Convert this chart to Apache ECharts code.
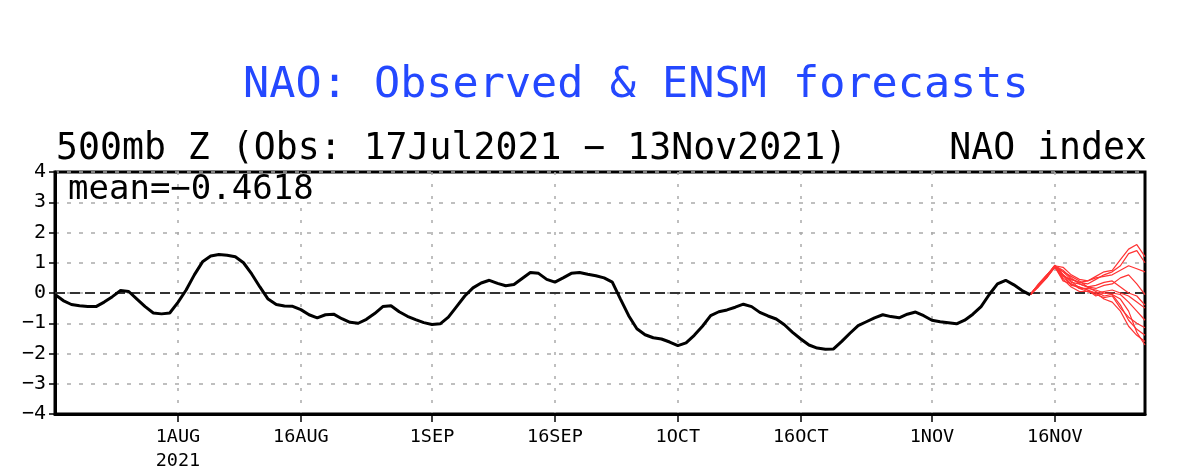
<!DOCTYPE html>
<html>
<head>
<meta charset="utf-8">
<script src="https://cdn.jsdelivr.net/npm/echarts@6/dist/echarts.min.js"></script>
<style>
html,body{margin:0;padding:0;background:#fff;}
#chart{width:1201px;height:473px;}
</style>
</head>
<body>
<div id="chart"></div>
<script>
// ---- Data ----
var startDate = '2021-07-17';
var endDate = '2021-11-27';
var tickLabels = {
  '2021-08-01': '1AUG\n2021',
  '2021-08-16': '16AUG',
  '2021-09-01': '1SEP',
  '2021-09-16': '16SEP',
  '2021-10-01': '1OCT',
  '2021-10-16': '16OCT',
  '2021-11-01': '1NOV',
  '2021-11-16': '16NOV'
};
var yTicks = [-4, -3, -2, -1, 0, 1, 2, 3, 4];
var zeroLevel = 0;

// observed NAO index, daily from 17 Jul 2021 to 13 Nov 2021
var observed = [
  -0.05, -0.25, -0.38, -0.42, -0.45, -0.45, -0.30, -0.12, 0.08, 0.05,
  -0.20, -0.45, -0.66, -0.69, -0.66, -0.31, 0.10, 0.60, 1.03, 1.22,
  1.27, 1.25, 1.20, 1.00, 0.63, 0.20, -0.20, -0.38, -0.43, -0.44,
  -0.55, -0.72, -0.82, -0.72, -0.70, -0.85, -0.97, -1.00, -0.87, -0.68,
  -0.45, -0.42, -0.62, -0.77, -0.88, -0.98, -1.04, -1.02, -0.80, -0.45,
  -0.10, 0.17, 0.33, 0.42, 0.32, 0.24, 0.28, 0.48, 0.68, 0.65,
  0.45, 0.36, 0.50, 0.65, 0.68, 0.62, 0.57, 0.50, 0.36, -0.20,
  -0.75, -1.18, -1.38, -1.48, -1.52, -1.62, -1.74, -1.65, -1.40, -1.10,
  -0.75, -0.62, -0.56, -0.47, -0.37, -0.45, -0.64, -0.76, -0.86, -1.05,
  -1.30, -1.52, -1.72, -1.82, -1.86, -1.85, -1.60, -1.33, -1.08, -0.95,
  -0.82, -0.72, -0.78, -0.82, -0.70, -0.63, -0.75, -0.90, -0.95, -0.98,
  -1.02, -0.90, -0.70, -0.45, -0.05, 0.30, 0.42, 0.27, 0.08, -0.06
];

// ENSM forecast members, daily from 13 Nov 2021 to 27 Nov 2021
var member1  = [-0.05, 0.25, 0.55, 0.90, 0.85, 0.60, 0.45, 0.40, 0.55, 0.70, 0.75, 1.10, 1.45, 1.60, 1.20];
var member2  = [-0.05, 0.30, 0.60, 0.85, 0.70, 0.45, 0.35, 0.30, 0.45, 0.60, 0.70, 0.90, 1.30, 1.40, 1.00];
var member3  = [-0.05, 0.20, 0.50, 0.88, 0.55, 0.45, 0.35, 0.40, 0.50, 0.55, 0.60, 0.75, 0.90, 0.80, 0.70];
var member4  = [-0.05, 0.25, 0.55, 0.90, 0.60, 0.35, 0.30, 0.20, 0.15, 0.25, 0.30, 0.50, 0.60, 0.30, -0.05];
var member5  = [-0.05, 0.22, 0.50, 0.85, 0.50, 0.30, 0.15, 0.05, 0.00, 0.05, 0.10, 0.00, -0.10, -0.30, -0.50];
var member6  = [-0.05, 0.28, 0.58, 0.92, 0.60, 0.25, 0.20, 0.10, -0.10, 0.00, 0.00, -0.05, -0.30, -0.60, -0.90];
var member7  = [-0.05, 0.24, 0.52, 0.87, 0.45, 0.20, 0.05, 0.05, -0.05, -0.15, -0.10, -0.50, -0.80, -1.00, -1.15];
var member8  = [-0.05, 0.26, 0.56, 0.90, 0.70, 0.55, 0.40, 0.20, 0.05, -0.10, -0.05, -0.40, -0.90, -1.20, -1.40];
var member9  = [-0.05, 0.23, 0.53, 0.86, 0.40, 0.30, 0.20, 0.10, 0.00, -0.20, -0.30, -0.60, -1.10, -1.40, -1.60];
var member10 = [-0.05, 0.27, 0.57, 0.89, 0.60, 0.40, 0.15, 0.15, 0.10, 0.00, -0.05, -0.20, -0.60, -1.30, -1.72];
var member11 = [-0.05, 0.25, 0.55, 0.90, 0.75, 0.50, 0.30, 0.20, 0.25, 0.35, 0.40, 0.20, 0.00, -0.10, -0.40];
var members = [member1, member2, member3, member4, member5, member6, member7, member8, member9, member10, member11];

// ---- Build categories (dates) ----
function pad(n){return n < 10 ? '0' + n : '' + n;}
var categories = [];
(function(){
  var d = new Date(startDate + 'T00:00:00Z');
  var e = new Date(endDate + 'T00:00:00Z');
  while (d <= e) {
    categories.push(d.getUTCFullYear() + '-' + pad(d.getUTCMonth() + 1) + '-' + pad(d.getUTCDate()));
    d = new Date(d.getTime() + 86400000);
  }
})();
var forecastStart = categories.indexOf('2021-11-13');

function isTick(idx, val){ return tickLabels.hasOwnProperty(val); }

var series = [];
// dashed zero reference line across the whole axis
series.push({
  type: 'line',
  data: [[0, zeroLevel], [categories.length - 1, zeroLevel]],
  symbol: 'none',
  silent: true,
  lineStyle: {color: '#333', type: [10, 5], width: 2},
  z: 3
});
series.push({
  type: 'line',
  data: observed,
  symbol: 'none',
  lineStyle: {color: '#000', width: 3},
  z: 5
});
members.forEach(function(m){
  series.push({
    type: 'line',
    data: m.map(function(v, j){ return [forecastStart + j, v]; }),
    symbol: 'none',
    lineStyle: {color: '#ff3333', width: 1.2},
    z: 4
  });
});

var chart = echarts.init(document.getElementById('chart'), null, {renderer: 'canvas'});
var MONO = '"DejaVu Sans Mono", monospace';
chart.setOption({
  animation: false,
  backgroundColor: '#fff',
  grid: {left: 55, right: 56, top: 172, bottom: 56, show: true, borderColor: '#000', borderWidth: 3},
  xAxis: {
    type: 'category',
    data: categories,
    boundaryGap: false,
    axisLine: {show: true, onZero: false, lineStyle: {color: '#000', width: 3}},
    axisTick: {show: true, interval: isTick, length: 8, lineStyle: {color: '#000', width: 1.5}},
    axisLabel: {
      interval: isTick,
      formatter: function(v){ return tickLabels[v] || ''; },
      color: '#000', fontFamily: MONO, fontSize: 18.5, margin: 11, lineHeight: 24
    },
    splitLine: {show: true, interval: isTick, lineStyle: {color: '#aaa', type: [3, 9], width: 1.5}}
  },
  yAxis: {
    type: 'value',
    min: yTicks[0], max: yTicks[yTicks.length - 1], interval: 1,
    axisLine: {show: true, onZero: false, lineStyle: {color: '#000', width: 3}},
    axisTick: {show: true, length: 6, lineStyle: {color: '#000', width: 1.5}},
    axisLabel: {color: '#000', fontFamily: MONO, fontSize: 20, margin: 9,
      formatter: function(v){ return String(v).replace('-', '\u2212'); }},
    splitLine: {show: true, lineStyle: {color: '#aaa', type: [4, 8], width: 1.5}}
  },
  graphic: [
    {type: 'text', left: 243, top: 64, style: {text: 'NAO: Observed & ENSM forecasts', fill: '#2448ff', font: '43.5px ' + MONO}},
    {type: 'text', left: 56, top: 131, style: {text: '500mb Z (Obs: 17Jul2021 \u2212 13Nov2021)', fill: '#000', font: '36.5px ' + MONO}},
    {type: 'text', right: 54, top: 131, style: {text: 'NAO index', fill: '#000', font: '36.5px ' + MONO}},
    {type: 'text', left: 68, top: 173, style: {text: 'mean=\u22120.4618', fill: '#000', font: '34px ' + MONO}, z: 10}
  ],
  series: series
});
</script>
</body>
</html>
